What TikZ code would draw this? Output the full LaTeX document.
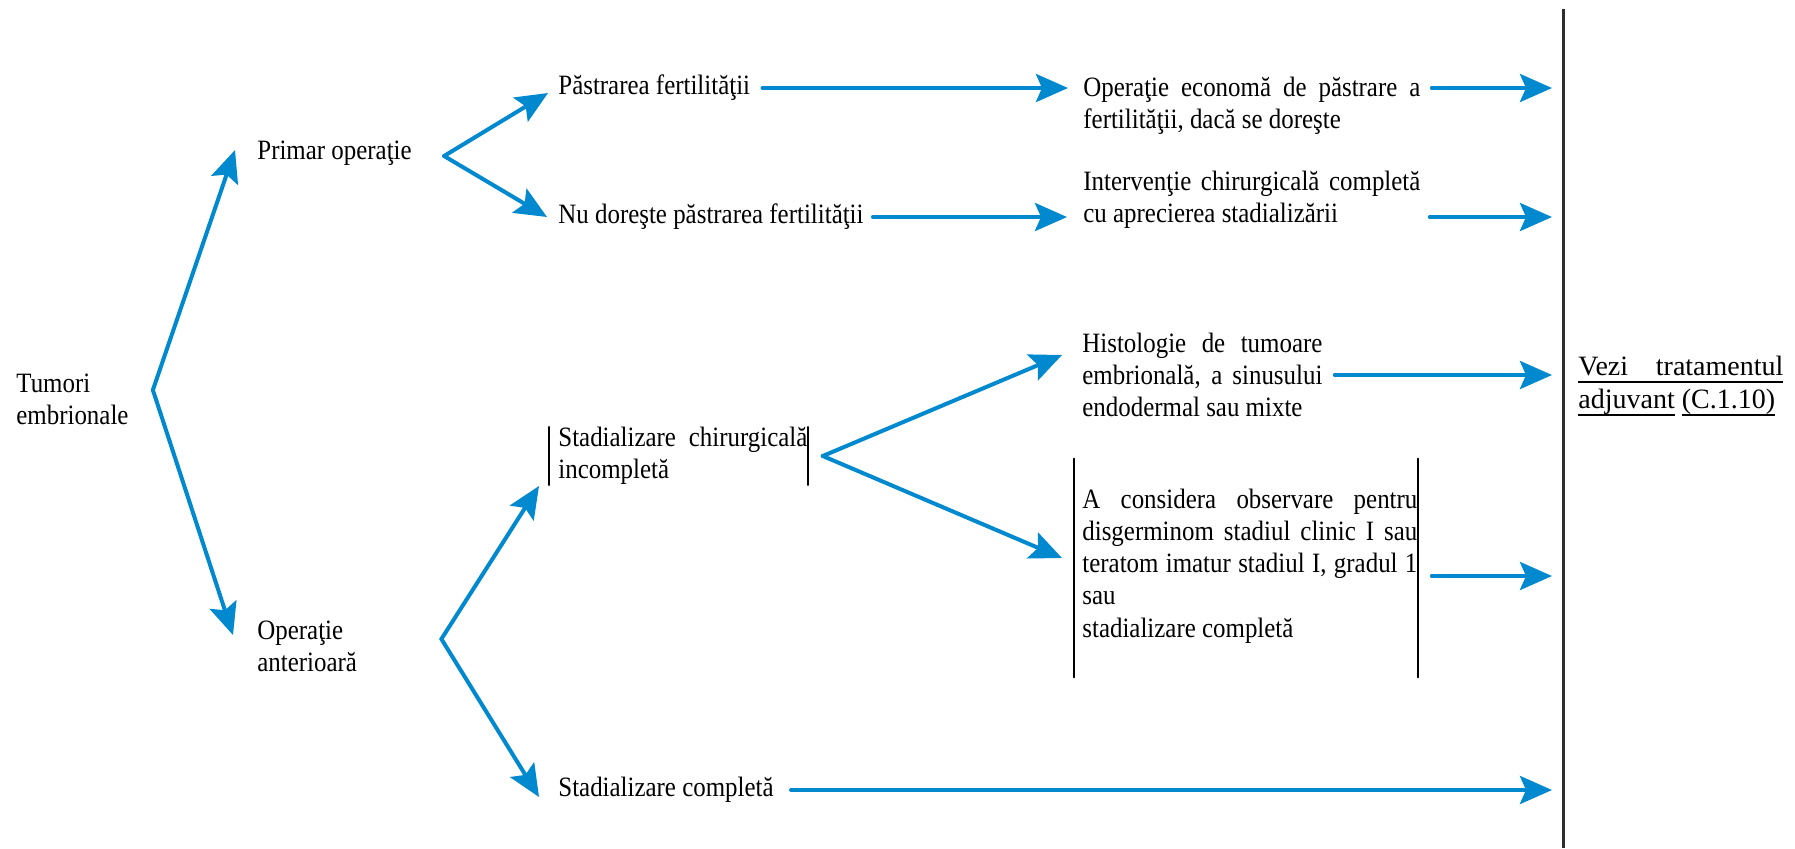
\documentclass[tikz,border=0pt]{standalone}
\usepackage{fontspec}
\setmainfont{Liberation Serif}[FakeStretch=0.89]
\newfontfamily\widefont{Liberation Serif}
\usetikzlibrary{arrows.meta,calc}
\definecolor{arrowblue}{RGB}{0,137,207}
\definecolor{sepgray}{RGB}{45,45,45}
\newcommand\ulined[1]{\setbox0\hbox{#1}\rlap{\rule[-3.6pt]{\wd0}{0.9pt}}\box0\relax}
\begin{document}
\begin{tikzpicture}[x=0.5pt, y=-0.5pt, line cap=round, line join=round,
    font=\fontsize{14}{16.1}\selectfont,
    txt/.style={anchor=west, inner sep=0pt, align=left},
    jtext/.style={anchor=west, inner sep=0pt, text width=#1, align=justify},
    arr/.style={draw=arrowblue, line width=2pt, -{Stealth[length=16pt, width=14pt, inset=3pt]}},
    bar/.style={line width=0.7pt}]
\useasboundingbox (0,0) rectangle (1795,848);
% left part
\node[txt] (tum) at (16,399) {Tumori\\embrionale};
\node[txt] (prim) at (257,153) {Primar operaţie};
\node[txt] (opant) at (257,646) {Operaţie\\anterioară};
\node[txt] (pastr) at (558,88) {Păstrarea fertilităţii};
\node[txt] (nudor) at (558,217) {Nu doreşte păstrarea fertilităţii};
\node[jtext=124.5pt] (stchir) at (558,456) {Stadializare chirurgicală\linebreak incompletă};
\node[txt] (stcomp) at (558,790) {Stadializare completă};
% middle column
\node[jtext=168.5pt] (opec) at (1083,106) {Operaţie economă de păstrare a\linebreak fertilităţii, dacă se doreşte};
\node[jtext=168.5pt] (interv) at (1083,200) {Intervenţie chirurgicală completă\linebreak cu aprecierea stadializării};
\node[jtext=120pt] (histo) at (1082,375) {Histologie de tumoare\linebreak embrională, a sinusului\linebreak endodermal sau mixte};
\node[jtext=167.5pt] (consid) at (1082,566) {A considera observare pentru\linebreak disgerminom stadiul clinic I sau\linebreak teratom imatur stadiul I, gradul 1\linebreak sau\newline stadializare completă};
% right part
\coordinate (sepTop) at (1563,9);
\coordinate (sepBot) at (1563,848);
\draw[draw=sepgray, line width=1.5pt, line cap=butt] (sepTop) -- (sepBot);
\node[txt, font=\widefont\fontsize{14}{16.5}\selectfont] (vezi) at (1578,386)
    {\ulined{\makebox[102.5pt][s]{Vezi tratamentul}}\\\ulined{adjuvant}\ \ulined{(C.1.10)}};
% bars round two boxes
\draw[bar] ([xshift=-4.5pt]stchir.north west) -- ([xshift=-4.5pt]stchir.south west);
\draw[bar] (stchir.north east) -- (stchir.south east);
\draw[bar] ([shift={(-4pt,15pt)}]consid.north west) -- ([shift={(-4pt,-17pt)}]consid.south west);
\draw[bar] ([yshift=15pt]consid.north east) -- ([yshift=-17pt]consid.south east);
% arrows
\draw[arr] ($(tum.east)+(24,-9)$) -- ($(prim.west)+(-22,-3)$);
\draw[arr] ($(tum.east)+(24,-9)$) -- ($(opant.west)+(-24,-11)$);
\draw[arr] ($(prim.east)+(32,3)$) -- ($(pastr.west)+(-10,5)$);
\draw[arr] ($(prim.east)+(32,3)$) -- ($(nudor.west)+(-11,0)$);
\draw[arr, shorten <=6pt, shorten >=7.5pt] (pastr.east) -- (pastr.east -| opec.west);
\draw[arr, shorten <=4.5pt, shorten >=8pt] (nudor.east) -- (nudor.east -| interv.west);
\draw[arr] ($(opant.east)+(84,-7)$) -- ($(stchir.west)+(-19,30)$);
\draw[arr] ($(opant.east)+(84,-7)$) -- ($(stcomp.west)+(-19,7)$);
\draw[arr] ($(stchir.east)+(15,0)$) -- ($(histo.west)+(-20,-20)$);
\draw[arr] ($(stchir.east)+(15,0)$) -- ($(consid.west)+(-20,-8)$);
% to the separator
\draw[arr, shorten <=5.5pt, shorten >=5.5pt] (opec.east |- pastr.east) -- (pastr.east -| sepTop);
\draw[arr, shorten <=4.5pt, shorten >=5.5pt] (interv.east |- nudor.east) -- (nudor.east -| sepTop);
\draw[arr, shorten <=6pt, shorten >=5.5pt] (histo.east) -- (histo.east -| sepTop);
\draw[arr, shorten <=7pt, shorten >=5.5pt] ($(consid.east)+(0,10)$) -- ($(consid.east -| sepTop)+(0,10)$);
\draw[arr, shorten <=8.5pt, shorten >=5.5pt] (stcomp.east) -- (stcomp.east -| sepTop);
\end{tikzpicture}
\end{document}
